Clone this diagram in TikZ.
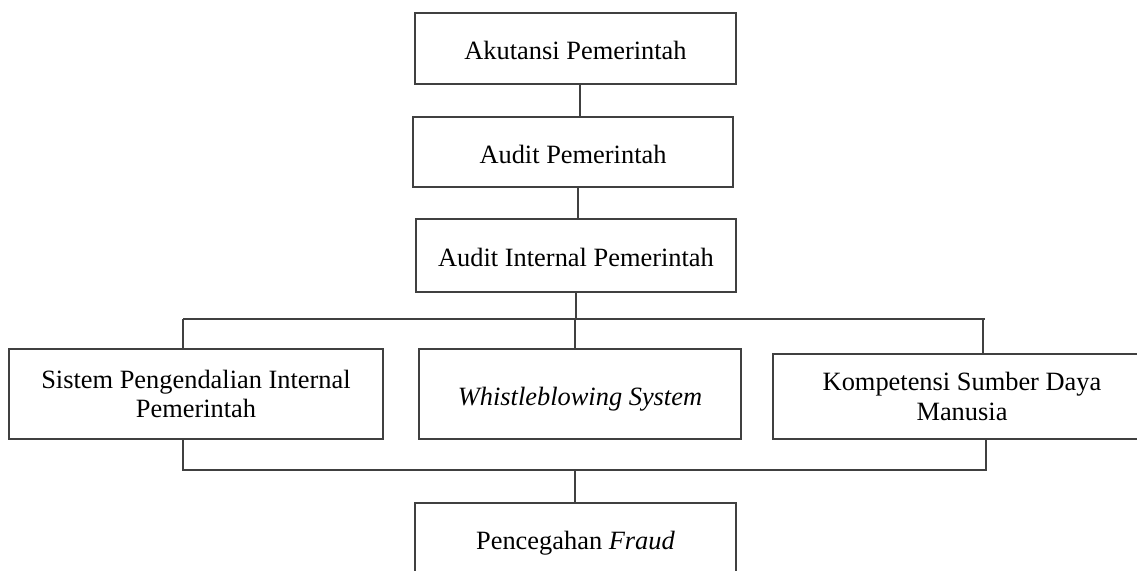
\documentclass[tikz,border=0pt]{standalone}
\usepackage{fontspec}
\setmainfont{Liberation Serif}
\begin{document}
\begin{tikzpicture}[x=1pt,y=-1pt,
  box/.style={draw=black!75, line width=1.1pt, fill=white, inner sep=0pt, align=center,
    font=\fontsize{26.4}{29.5}\selectfont},
  oneline/.style={text height=22pt, text depth=0pt},
  link/.style={draw=black!75, line width=1.1pt}]
\path[use as bounding box, clip] (0,0) rectangle (1137,570);
\fill[white] (0,0) rectangle (1137,570);

\node[box, oneline, minimum width=321pt, minimum height=71pt] (a) at (575.5,48.5) {Akutansi Pemerintah};
\node[box, oneline, minimum width=320pt, minimum height=70pt] (b) at (573,152) {Audit Pemerintah};
\node[box, oneline, minimum width=320pt, minimum height=73pt] (c) at (576,255.5) {Audit Internal Pemerintah};
\node[box, minimum width=374pt, minimum height=90pt] (d) at (196,394) {Sistem Pengendalian Internal\\Pemerintah};
\node[box, oneline, minimum width=322pt, minimum height=90pt] (e) at (580,394) {\itshape Whistleblowing System};
\node[box, minimum width=378pt, minimum height=85pt] (f) at (962,396.5) {Kompetensi Sumber Daya\\Manusia};
\node[box, oneline, minimum width=321pt, minimum height=70pt] (g) at (575.5,538) {Pencegahan \textit{Fraud}};

\coordinate (top1) at (183,319);
\coordinate (top2) at (985,319);
\coordinate (bot1) at (183,470);
\coordinate (bot2) at (986,470);

% vertical chain
\draw[link] ([xshift=4.5pt]a.south) -- ([xshift=4.5pt]a.south |- b.north);
\draw[link] ([xshift=5pt]b.south) -- ([xshift=5pt]b.south |- c.north);
\draw[link] (c.south) -- (c.south |- top1);

% upper bus
\draw[link] (top1) -- (top2);
\draw[link] (top1) -- (top1 |- d.north);
\draw[link] ([xshift=-5pt]e.north) -- ([xshift=-5pt]e.north |- top1);
\draw[link] ([xshift=-2pt]top2) -- ([xshift=-2pt]top2 |- f.north);

% lower bus
\draw[link] (bot1 |- d.south) -- (bot1) -- (bot2) -- (bot2 |- f.south);
\draw[link] ([xshift=-0.5pt]g.north) -- ([xshift=-0.5pt]g.north |- bot1);
\end{tikzpicture}
\end{document}
